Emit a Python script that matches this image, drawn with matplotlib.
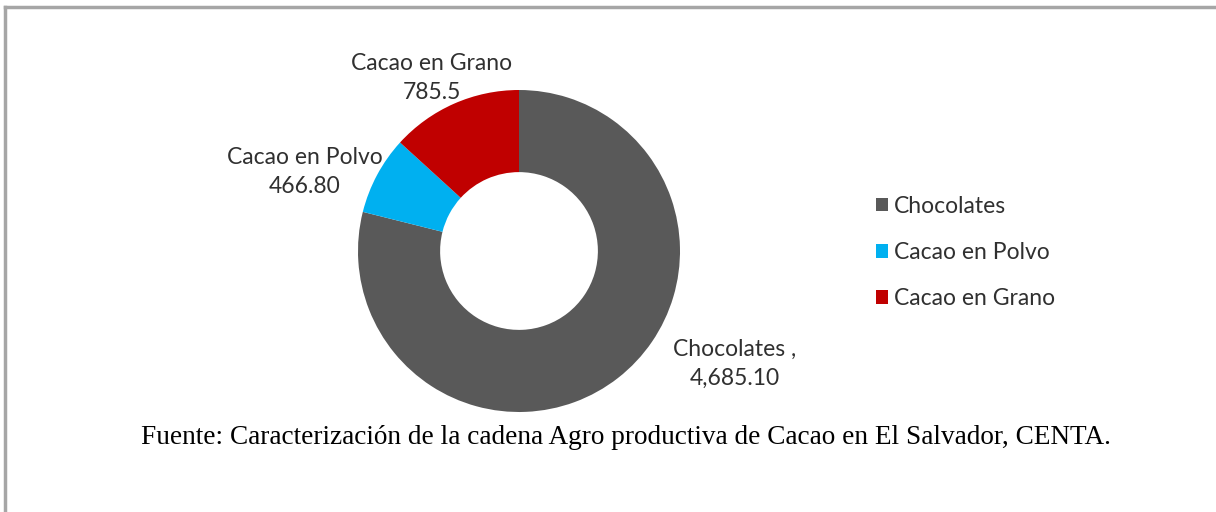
import matplotlib.pyplot as plt
from matplotlib.patches import Patch
from matplotlib.lines import Line2D

# data
categories = ['Chocolates', 'Cacao en Polvo', 'Cacao en Grano']
values = [4685.10, 466.80, 785.5]
value_labels = ['4,685.10', '466.80', '785.5']
colors = ['#595959', '#00B0F0', '#C00000']
source = u'Fuente: Caracterización de la cadena Agro productiva de Cacao en El Salvador, CENTA.'

W, H = 1216, 512
fig = plt.figure(figsize=(W / 100, H / 100), dpi=100)

# frame lines (top and left only)
fig.add_artist(Line2D([5 / W, 1], [1 - 7 / H, 1 - 7 / H], color='#A6A6A6', lw=2.5))
fig.add_artist(Line2D([5 / W, 5 / W], [0, 1 - 7 / H], color='#A6A6A6', lw=2.5))

cx, cy, r = 519, 251, 161
ax = fig.add_axes([(cx - r) / W, (H - cy - r) / H, 2 * r / W, 2 * r / H])
wedges, _ = ax.pie(values, colors=colors, startangle=90, counterclock=False,
                   radius=1, wedgeprops=dict(width=0.51, edgecolor='none'))
ax.set_xlim(-1, 1)
ax.set_ylim(-1, 1)
ax.set_aspect('equal')
ax.axis('off')

lab_font = 'Lato'
lab_size = 16.5
txt_color = '#303030'
label_pos = [(1.34, -0.70), (-1.33, 0.49), (-0.54, 1.075)]
for i, (lx, ly) in enumerate(label_pos):
    name = categories[i] + (' ,' if i == 0 else '')
    ax.text(lx, ly, name + '\n' + value_labels[i], ha='center', va='center',
            fontsize=lab_size, family=lab_font, color=txt_color,
            linespacing=1.5, clip_on=False)

handles = [Patch(facecolor=c, edgecolor='none') for c in colors]
fig.legend(handles, categories, loc='upper left', bbox_to_anchor=(855 / W, 1 - 175 / H),
           frameon=False, prop={'family': lab_font, 'size': lab_size},
           handlelength=0.55, handleheight=0.55, handletextpad=0.25, labelspacing=1.1,
           labelcolor=txt_color)

fig.text(626 / W, 1 - 438 / H, source, ha='center', va='center',
         family='Liberation Serif', fontsize=19.6, color='black')

fig.savefig('out.png', dpi=100)
